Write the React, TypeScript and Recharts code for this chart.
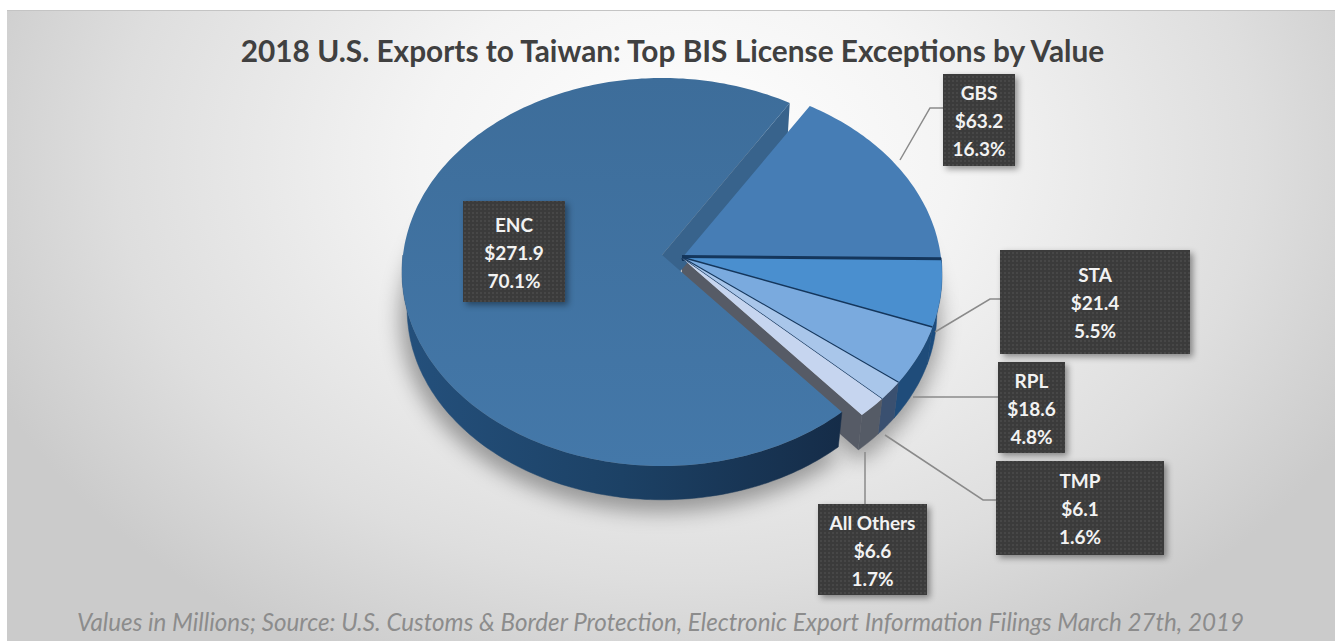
import { Pie, PieChart } from "recharts";

const NAMES = ["GBS", "STA", "RPL", "TMP", "All Others", "ENC"];
const VALUES = [63.2, 21.4, 18.6, 6.1, 6.6, 271.9];

const TITLE = "2018 U.S. Exports to Taiwan: Top BIS License Exceptions by Value";
const SOURCE = "Values in Millions; Source: U.S. Customs & Border Protection, Electronic Export Information Filings March 27th, 2019";

const data = NAMES.map((name, i) => ({ name, value: VALUES[i] }));

// slice look, same order as NAMES
const FACE = ["#467db5", "#4a8fcf", "#7aaade", "#a9c6ea", "#c6d5ef", "url(#encFace)"];
const RIM = ["#1f4d7e", "#1c4c7e", "#1f4c7a", "#3a5070", "#555b66", "url(#encRim)"];
const SEPARATOR = [6, 3, 2.2, 1.2, 0, 0];

// label boxes: x, y, w, h
const BOX = [
  [943, 74, 72, 92],
  [1000, 250, 190, 104],
  [998, 362, 67, 91],
  [996, 461, 168, 94],
  [818, 504, 109, 91],
  [463, 201, 102, 101],
];
const LEADER = [
  "M900 160 L930 108 L943 108",
  "M935 332 L990 299 L1000 299",
  "M913 397 L998 397",
  "M885 435 L983 500 L996 500",
  "M865 452 L865 504",
  "",
];

// projection of the tilted disc, with the near side drawn larger
const CX = 682;
const CY = 258;
const RX = 259;
const RY = 192.5;
const PERSPECTIVE = 0.0876;
const DEPTH = 38;
const BOTTOM_SCALE = 0.98;
const ENC_SHIFT = [-20, -3];
const START = 58;

const shiftOf = (name: string) => (name === "ENC" ? ENC_SHIFT : [0, 0]);

const pt = (a: number, dx: number, dy: number, lower = false) => {
  const rad = (a * Math.PI) / 180;
  const w = 1 + PERSPECTIVE * Math.sin(rad);
  const s = lower ? BOTTOM_SCALE : 1;
  return [CX + dx + (s * RX * Math.cos(rad)) / w, CY + dy + (lower ? DEPTH : 0) - (s * RY * Math.sin(rad)) / w];
};

// rim points from one angle to another, one degree apart
const rim = (from: number, to: number, dx: number, dy: number, lower = false) => {
  const n = Math.max(1, Math.ceil(Math.abs(from - to)));
  const out = [];
  for (let k = 0; k <= n; k++) {
    const p = pt(from + ((to - from) * k) / n, dx, dy, lower);
    out.push(`${p[0].toFixed(1)} ${p[1].toFixed(1)}`);
  }
  return out.join(" L");
};

const facePath = (a1: number, a2: number, dx: number, dy: number) =>
  `M${CX + dx} ${CY + dy} L${rim(a1, a2, dx, dy)} Z`;

function ShadowShape(props: any) {
  const [dx, dy] = shiftOf(props.name);
  return (
    <path
      d={facePath(props.startAngle, props.endAngle, dx - 2, dy + DEPTH + 8)}
      fill="#000"
      fillOpacity={0.34}
      style={{ filter: "blur(10px)" }}
    />
  );
}

function WallShape(props: any) {
  const { name, startAngle, endAngle } = props;
  const i = NAMES.indexOf(name);
  const [dx, dy] = shiftOf(name);
  const parts = [];
  // outer rim, only the front half of the ellipse shows
  const from = Math.min(startAngle, 0);
  const to = Math.max(endAngle, -180);
  if (from > to) {
    const d = `M${rim(from, to, dx, dy)} L${rim(to, from, dx, dy, true)} Z`;
    parts.push(<path key="rim" d={d} fill={RIM[i]} stroke={RIM[i]} strokeWidth={0.5} />);
  }
  // cut faces seen in the gap left by the pulled out ENC slice
  if (name === "ENC" || name === "All Others") {
    const a = name === "ENC" ? endAngle : endAngle;
    const e = pt(a, dx, dy);
    const f = pt(a, dx, dy, true);
    const d = `M${CX + dx} ${CY + dy} L${e[0]} ${e[1]} L${f[0]} ${f[1]} L${CX + dx} ${CY + dy + DEPTH} Z`;
    parts.push(<path key="side" d={d} fill={name === "ENC" ? "#38638c" : "#565b66"} />);
  }
  return <g>{parts}</g>;
}

function FaceShape(props: any) {
  const { name, startAngle, endAngle } = props;
  const i = NAMES.indexOf(name);
  const [dx, dy] = shiftOf(name);
  const e = pt(endAngle, dx, dy);
  return (
    <g>
      <path d={facePath(startAngle, endAngle, dx, dy)} fill={FACE[i]} />
      {SEPARATOR[i] > 0 && (
        <line x1={CX} y1={CY} x2={e[0]} y2={e[1]} stroke="#14365c" strokeWidth={SEPARATOR[i]} />
      )}
    </g>
  );
}

function BoxLabel(props: any) {
  const i = NAMES.indexOf(props.name);
  const [x, y, w, h] = BOX[i];
  const lines = [NAMES[i], `$${VALUES[i].toFixed(1)}`, `${(props.percent * 100).toFixed(1)}%`];
  const step = 28;
  const first = y + h / 2 - step + 8;
  return (
    <g>
      {LEADER[i] && <path d={LEADER[i]} fill="none" stroke="#8a8a8a" strokeWidth={1.5} />}
      <rect x={x} y={y} width={w} height={h} fill="#3b3b3b" style={{ filter: "drop-shadow(3px 3px 3px rgba(0,0,0,0.4))" }} />
      <rect x={x} y={y} width={w} height={h} fill="url(#dots)" />
      {lines.map((t, k) => (
        <text
          key={k}
          x={x + w / 2}
          y={first + k * step}
          textAnchor="middle"
          fill="#f2f2f2"
          fontFamily="Lato"
          fontWeight={700}
          fontSize={19}
        >
          {t}
        </text>
      ))}
    </g>
  );
}

const sweep = { startAngle: START, endAngle: START - 360 };

export default function App() {
  return (
    <div
      style={{
        position: "absolute",
        left: 0,
        top: 0,
        width: 1335,
        height: 641,
        overflow: "hidden",
        background: "#fff",
      }}
    >
      <div
        style={{
          position: "absolute",
          left: 7,
          top: 10,
          width: 1328,
          height: 631,
          borderTop: "1px solid #c4c4c4",
          background:
            "radial-gradient(ellipse 760px 560px at 680px 150px, #ffffff 0%, #f4f4f4 35%, #dedede 75%, #cbcbcb 100%)",
        }}
      />
      <div
        style={{
          position: "absolute",
          left: 0,
          width: 1345,
          top: 33,
          textAlign: "center",
          fontFamily: "Lato",
          fontWeight: 700,
          fontSize: 29.8,
          color: "#404040",
          whiteSpace: "nowrap",
        }}
      >
        {TITLE}
      </div>
      <div
        style={{
          position: "absolute",
          left: 0,
          width: 1321,
          top: 607,
          textAlign: "center",
          fontFamily: "Lato",
          fontStyle: "italic",
          fontSize: 24.2,
          color: "#8c8c8c",
          whiteSpace: "nowrap",
        }}
      >
        {SOURCE}
      </div>
      <div style={{ position: "absolute", left: 0, top: 0 }}>
        <PieChart width={1335} height={641} margin={{ top: 0, right: 0, bottom: 0, left: 0 }}>
          <defs>
            <pattern id="dots" width="4" height="4" patternUnits="userSpaceOnUse">
              <circle cx="1" cy="1" r="0.7" fill="#5a5a5a" />
            </pattern>
            <linearGradient id="encFace" x1="0" y1="0" x2="0" y2="1">
              <stop offset="0%" stopColor="#3d6d9a" />
              <stop offset="100%" stopColor="#4478a9" />
            </linearGradient>
            <linearGradient id="encRim" x1="0" y1="0" x2="1" y2="0">
              <stop offset="0%" stopColor="#24507c" />
              <stop offset="50%" stopColor="#1c4165" />
              <stop offset="100%" stopColor="#152c48" />
            </linearGradient>
          </defs>
          <Pie data={data} dataKey="value" nameKey="name" cx={CX} cy={CY} outerRadius={RX} {...sweep} shape={ShadowShape} label={false} labelLine={false} isAnimationActive={false} />
          <Pie data={data} dataKey="value" nameKey="name" cx={CX} cy={CY} outerRadius={RX} {...sweep} shape={WallShape} label={false} labelLine={false} isAnimationActive={false} />
          <Pie data={data} dataKey="value" nameKey="name" cx={CX} cy={CY} outerRadius={RX} {...sweep} shape={FaceShape} label={BoxLabel} labelLine={false} isAnimationActive={false} />
        </PieChart>
      </div>
    </div>
  );
}
